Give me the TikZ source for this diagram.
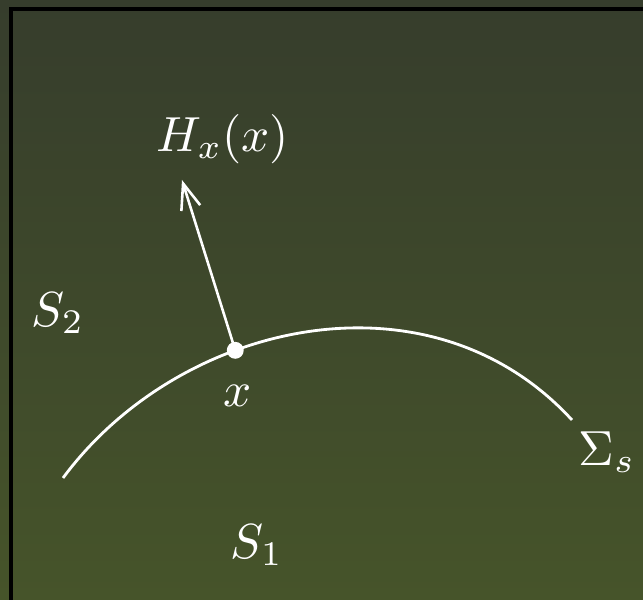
\documentclass[tikz,border=0pt]{standalone}
\usetikzlibrary{arrows.meta}
\definecolor{bgtop}{RGB}{54,61,44}
\definecolor{bgbot}{RGB}{70,84,42}
\begin{document}
\begin{tikzpicture}[x=0.213pt,y=-0.213pt,
  curve/.style={draw=white,line width=0.6pt},
  lbl/.style={text=white,inner sep=0pt,scale=1.05},
  dotnode/.style={circle,fill=white,minimum size=3.6pt,inner sep=0pt},
  vec/.style={draw=white,line width=0.55pt,-{Straight Barb[length=5.5pt,width=4.2pt,line width=0.55pt]}}]
\useasboundingbox (0,0) rectangle (643,600);
\shade[top color=bgtop,bottom color=bgbot] (0,0) rectangle (643,600);
\draw[black,line width=0.8pt] (11,620) -- (11,9) -- (660,9);
\draw[curve] (63,478) .. controls (180,320) and (430,265) .. (572,420)
  node[pos=0.37,dotnode] (p) {};
\coordinate (tip) at (182,180);
\draw[vec] (p.center) -- (tip);
\node[lbl] (h) at (223,139) {$H_x(x)$};
\node[lbl] (s2) at (58,313) {$S_2$};
\node[lbl] (xl) at (238,396) {$x$};
\node[lbl] (sig) at (607,452) {$\Sigma_s$};
\node[lbl] (s1) at (257,545) {$S_1$};
\end{tikzpicture}
\end{document}
